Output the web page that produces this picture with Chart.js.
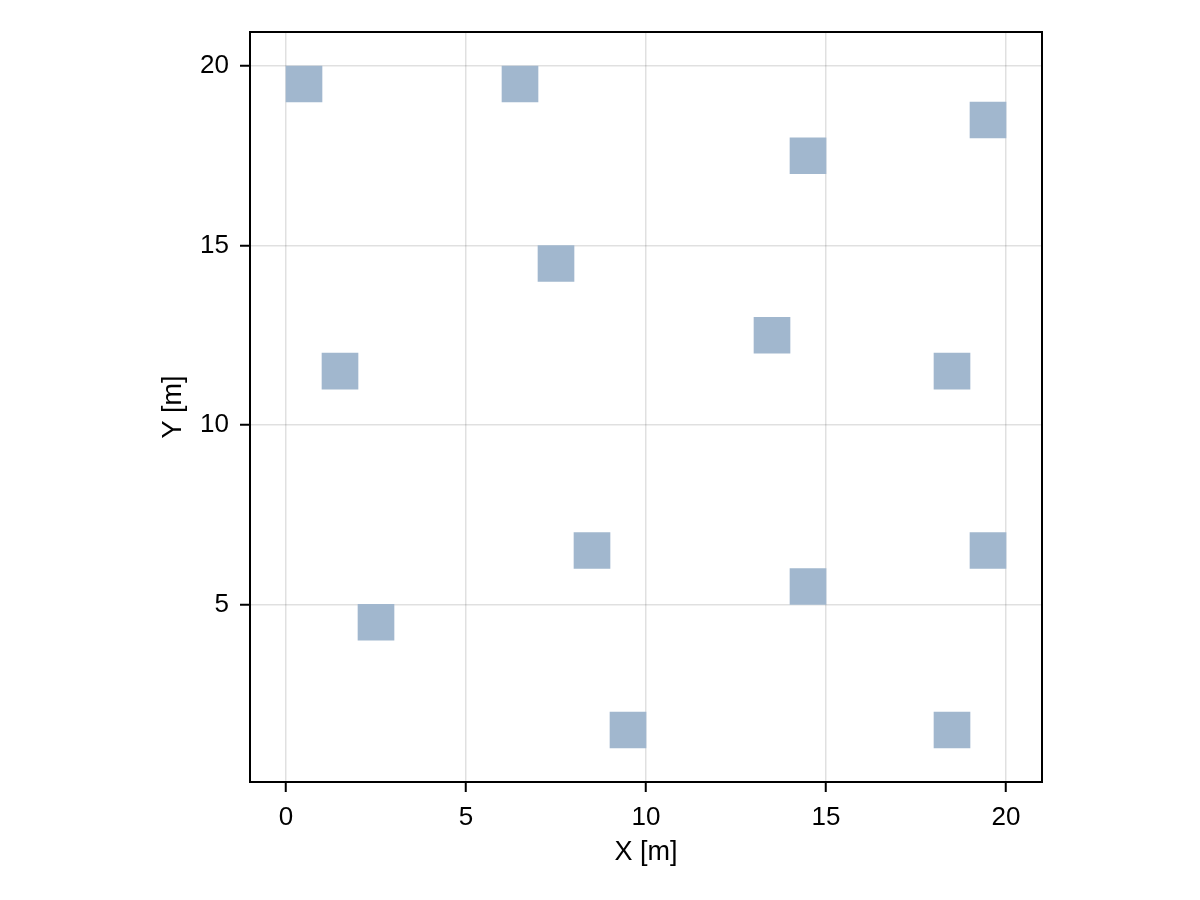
<!DOCTYPE html>
<html>
<head>
<meta charset="utf-8">
<script src="https://cdn.jsdelivr.net/npm/chart.js@4"></script>
<style>
html,body{margin:0;padding:0;background:#fff;}
#wrap{width:1200px;height:900px;}
</style>
</head>
<body>
<div id="wrap"><canvas id="c" width="1200" height="900"></canvas></div>
<script>
// Cell lower-left corners (each cell is 1 m x 1 m)
const cellX = [0, 6, 19, 14, 7, 13, 1, 18, 8, 19, 14, 2, 9, 18];
const cellY = [19, 19, 18, 17, 14, 12, 11, 11, 6, 6, 5, 4, 1, 1];
const cellSize = 1;
const xTicks = [0, 5, 10, 15, 20];
const yTicks = [5, 10, 15, 20];

const barData = cellX.map((x, i) => ({ x: x + cellSize / 2, y: [cellY[i], cellY[i] + cellSize] }));

const frame = {
  id: 'frame',
  afterDraw(chart) {
    const a = chart.chartArea, ctx = chart.ctx;
    ctx.save();
    ctx.strokeStyle = '#000';
    ctx.lineWidth = 2;
    ctx.strokeRect(a.left, a.top, a.right - a.left, a.bottom - a.top);
    ctx.restore();
  }
};

const font = { family: "'Liberation Sans', Arial, sans-serif", size: 26 };
const titleFont = { family: "'Liberation Sans', Arial, sans-serif", size: 27 };

new Chart(document.getElementById('c'), {
  type: 'bar',
  data: {
    datasets: [{
      data: barData,
      backgroundColor: 'rgb(161,183,206)',
      borderWidth: 0,
      barPercentage: 1,
      categoryPercentage: 1,
      grouped: false
    }]
  },
  options: {
    responsive: false,
    animation: false,
    layout: { padding: { left: 0, right: 158, top: 32, bottom: 0 } },
    plugins: { legend: { display: false }, tooltip: { enabled: false } },
    scales: {
      x: {
        type: 'linear',
        min: -1, max: 21,
        afterBuildTicks(s) { s.ticks = xTicks.map(v => ({ value: v })); },
        afterFit(s) { s.height = 118; },
        grid: { color: 'rgba(0,0,0,0.12)', lineWidth: 1.5, tickColor: '#000', tickWidth: 2, tickLength: 10, offset: false },
        border: { display: false },
        ticks: { color: '#000', font, padding: 10, maxRotation: 0 },
        title: { display: true, text: 'X [m]', color: '#000', font: titleFont, padding: { top: 0, bottom: 31 } },
        offset: false
      },
      y: {
        type: 'linear',
        min: 0.05, max: 20.95,
        afterBuildTicks(s) { s.ticks = yTicks.map(v => ({ value: v })); },
        afterFit(s) { s.width = 250; },
        grid: { color: 'rgba(0,0,0,0.12)', lineWidth: 1.5, tickColor: '#000', tickWidth: 2, tickLength: 10 },
        border: { display: false },
        ticks: { color: '#000', font, padding: 11 },
        title: { display: true, text: 'Y [m]', color: '#000', font: titleFont, padding: { top: 157, bottom: 0 } }
      }
    }
  },
  plugins: [frame]
});
</script>
</body>
</html>
